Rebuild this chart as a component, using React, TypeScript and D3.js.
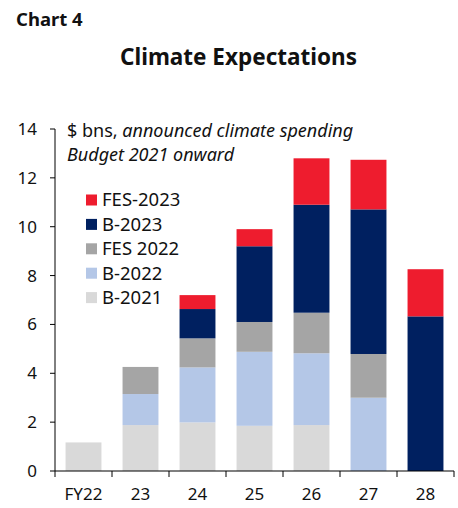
import React from "react";
import * as d3 from "d3";

const categories = ["FY22", "23", "24", "25", "26", "27", "28"];
const seriesNames = ["B-2021", "B-2022", "FES 2022", "B-2023", "FES-2023"];
const b2021 = [1.17, 1.88, 1.99, 1.85, 1.88, 0, 0];
const b2022 = [0, 1.27, 2.25, 3.03, 2.94, 3.0, 0];
const fes2022 = [0, 1.11, 1.19, 1.22, 1.66, 1.79, 0];
const b2023 = [0, 0, 1.2, 3.1, 4.42, 5.92, 6.33];
const fes2023 = [0, 0, 0.57, 0.7, 1.9, 2.03, 1.93];
const seriesColors = ["#D9D9D9", "#B4C7E7", "#A5A5A5", "#002060", "#EE1C2E"];
const yTicks = [0, 2, 4, 6, 8, 10, 12, 14];
const legendOrder = ["FES-2023", "B-2023", "FES 2022", "B-2022", "B-2021"];

const W = 458, H = 508;
const FONT = "'Noto Sans', sans-serif";

export default function App() {
  const seriesValues = [b2021, b2022, fes2022, b2023, fes2023];
  const table = categories.map((c, i) => {
    const row: any = { cat: c };
    seriesNames.forEach((s, k) => (row[s] = seriesValues[k][i]));
    return row;
  });
  const stacked = d3.stack<any>().keys(seriesNames)(table);

  const x = d3.scaleBand().domain(categories).range([55, 454]).paddingInner(0.37).paddingOuter(0.185);
  const xb = d3.scaleBand().domain(categories).range([55, 454]);
  const y = d3.scaleLinear().domain([0, 14]).range([471, 129]);
  const color = d3.scaleOrdinal<string, string>().domain(seriesNames).range(seriesColors);

  return (
    <svg width={W} height={H} style={{ position: "absolute", left: 0, top: 0 }} fontFamily={FONT}>
      <rect width={W} height={H} fill="#fff" />
      <text x={16} y={26} fontSize={18.5} fontWeight={700} fill="#111">Chart 4</text>
      <text x={238.5} y={65} fontSize={22.5} fontWeight={700} textAnchor="middle" fill="#111">Climate Expectations</text>

      {stacked.map((s) => (
        <g key={s.key} fill={color(s.key)}>
          {s.map((d, i) =>
            d[1] - d[0] > 0 ? (
              <rect key={i} x={x(categories[i])} width={x.bandwidth()} y={y(d[1])} height={y(d[0]) - y(d[1])} />
            ) : null
          )}
        </g>
      ))}

      {/* y axis */}
      <line x1={55} x2={55} y1={y(14)} y2={y(0)} stroke="#000" strokeWidth={1} />
      {yTicks.map((t) => (
        <g key={t}>
          <line x1={50} x2={55} y1={y(t)} y2={y(t)} stroke="#000" />
          <text x={37} y={y(t)} dy="0.35em" textAnchor="end" fontSize={17} fill="#111">{t}</text>
        </g>
      ))}

      {/* x axis */}
      <line x1={55} x2={454} y1={y(0)} y2={y(0)} stroke="#000" />
      {[...categories.map((c) => xb(c)!), 454].map((px, i) => (
        <line key={i} x1={px} x2={px} y1={y(0)} y2={y(0) + 6} stroke="#000" />
      ))}
      {categories.map((c) => (
        <text key={c} x={xb(c)! + xb.bandwidth() / 2} y={500} textAnchor="middle" fontSize={17} fill="#111">{c}</text>
      ))}

      {/* annotation */}
      <text x={67} y={137} fontSize={18} fill="#111">
        $ bns, <tspan fontStyle="italic">announced climate spending</tspan>
      </text>
      <text x={67} y={161} fontSize={18} fontStyle="italic" fill="#111">Budget 2021 onward</text>

      {/* legend */}
      {legendOrder.map((name, i) => (
        <g key={name} transform={`translate(86, ${200 + i * 24.4})`}>
          <rect x={0} y={-5.5} width={11} height={11} fill={color(name)} />
          <text x={16} y={0} dy="0.35em" fontSize={18.5} fill="#111">{name}</text>
        </g>
      ))}
    </svg>
  );
}
